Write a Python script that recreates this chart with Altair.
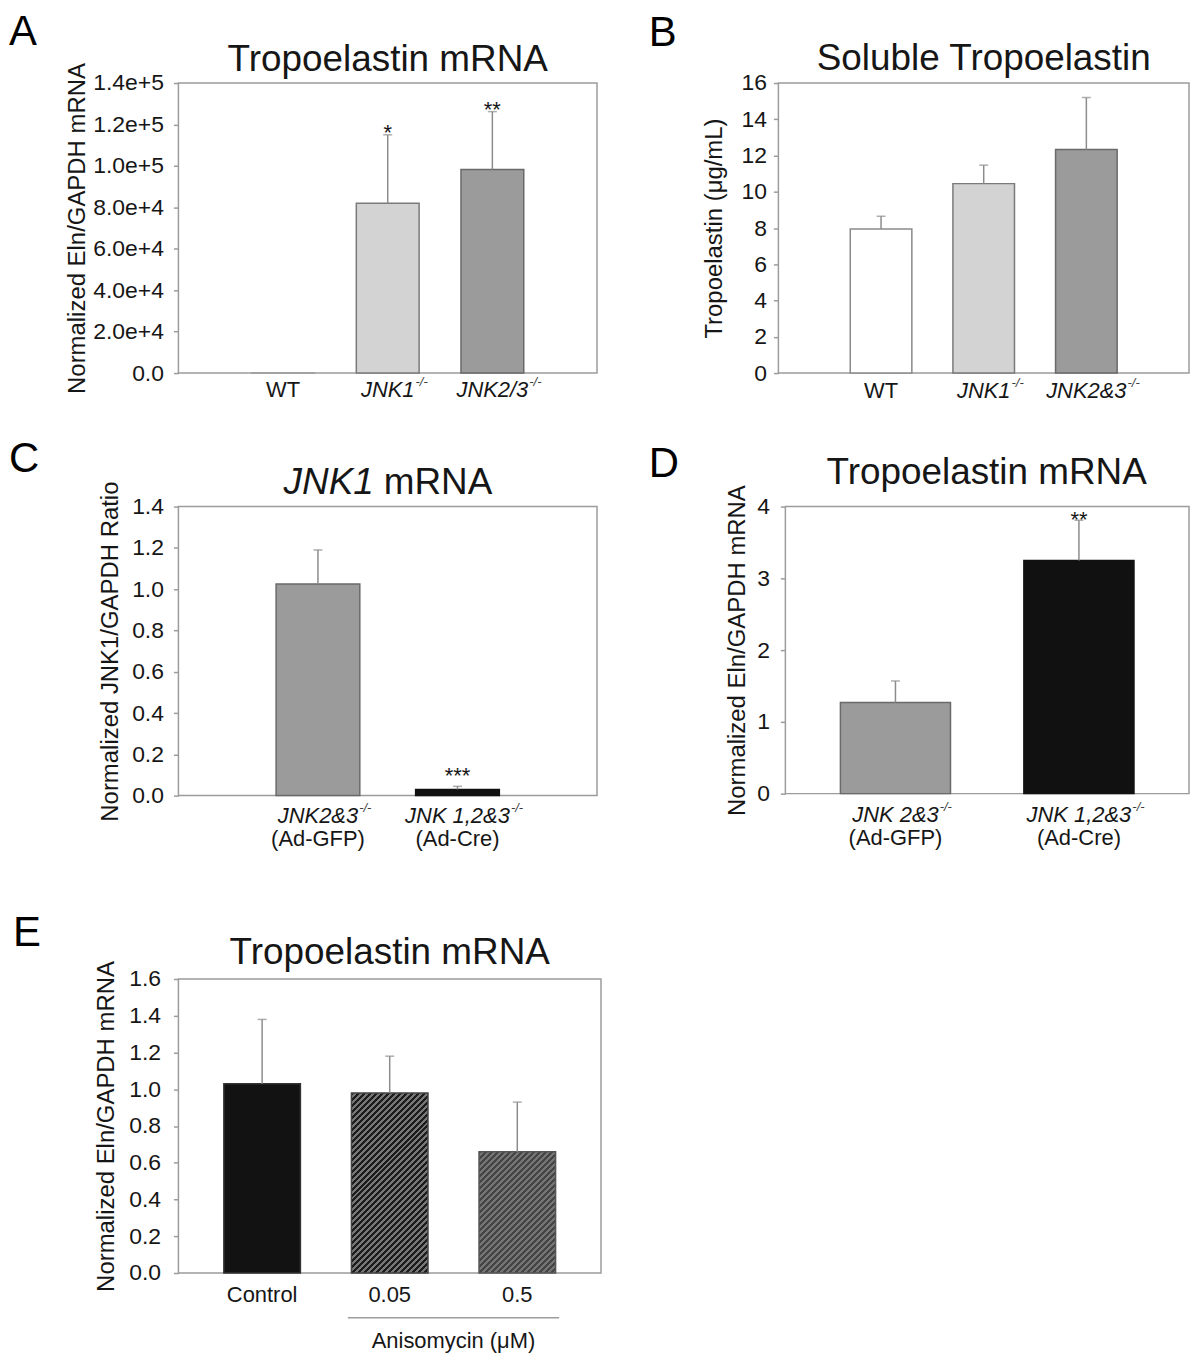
import altair as alt
import pandas as pd

FONT = "Liberation Sans"
TXT = "#161616"
AXC = "#9c9c9c"
ERR = "#8c8c8c"

# ---------------- Panel A: Tropoelastin mRNA ----------------
a_cats = ["WT", "JNK1", "JNK2/3"]
a_sup = ["", "-/-", "-/-"]
a_italic = [False, True, True]
a_mean = [1.0, 82000, 98300]
a_err = [None, 115000, 126200]
a_star = ["", "*", "**"]
a_ticks = [0, 20000, 40000, 60000, 80000, 100000, 120000, 140000]

# ---------------- Panel B: Soluble Tropoelastin ----------------
b_cats = ["WT", "JNK1", "JNK2&3"]
b_sup = ["", "-/-", "-/-"]
b_italic = [False, True, True]
b_mean = [7.95, 10.45, 12.33]
b_err = [8.65, 11.47, 15.2]
b_ticks = [0, 2, 4, 6, 8, 10, 12, 14, 16]

# ---------------- Panel C: JNK1 mRNA ----------------
c_cats = ["JNK2&3", "JNK 1,2&3"]
c_sup = ["-/-", "-/-"]
c_sub = ["(Ad-GFP)", "(Ad-Cre)"]
c_italic = [True, True]
c_mean = [1.025, 0.03]
c_err = [1.19, 0.045]
c_star = ["", "***"]
c_ticks = [0, 0.2, 0.4, 0.6, 0.8, 1.0, 1.2, 1.4]

# ---------------- Panel D: Tropoelastin mRNA ----------------
d_cats = ["JNK 2&3", "JNK 1,2&3"]
d_sup = ["-/-", "-/-"]
d_sub = ["(Ad-GFP)", "(Ad-Cre)"]
d_italic = [True, True]
d_mean = [1.27, 3.25]
d_err = [1.57, 3.81]
d_star = ["", "**"]
d_ticks = [0, 1, 2, 3, 4]

# ---------------- Panel E: Tropoelastin mRNA ----------------
e_cats = ["Control", "0.05", "0.5"]
e_sup = ["", "", ""]
e_italic = [False, False, False]
e_mean = [1.03, 0.98, 0.66]
e_err = [1.38, 1.18, 0.93]
e_ticks = [0, 0.2, 0.4, 0.6, 0.8, 1.0, 1.2, 1.4, 1.6]
e_bracket = ["0.05", "0.5"]
e_bracket_label = "Anisomycin (\u03bcM)"

# Arial / Liberation Sans advance widths (per 1000 em) used to place superscripts
AW = {"J": 500, "N": 722, "K": 667, "1": 556, "2": 556, "3": 556, "&": 667,
      "/": 278, " ": 278, ",": 278, "W": 944, "T": 611}


def tw(s, size):
    return sum(AW.get(ch, 556) for ch in s) / 1000.0 * size


def one(**kw):
    return pd.DataFrame({k: [v] for k, v in kw.items()})


def hatch_fill(w_px, h_px, c1, c2, period=6.0):
    # diagonal stripes ("/") drawn with a hard-stop linear gradient (objectBoundingBox units)
    n = (w_px + h_px) / period
    lam = (1.0 / h_px + 1.0 / w_px) / (1.0 / h_px ** 2 + 1.0 / w_px ** 2)
    stops = []
    k = 0
    while k < n:
        a = round(k / n, 5)
        m = round(min((k + 0.5) / n, 1.0), 5)
        b = round(min((k + 1.0) / n, 1.0), 5)
        stops += [{"offset": a, "color": c1}, {"offset": m, "color": c1},
                  {"offset": m, "color": c2}, {"offset": b, "color": c2}]
        k += 1
    return {"gradient": "linear", "x1": 0, "y1": 0,
            "x2": round(lam / h_px, 5), "y2": round(lam / w_px, 5), "stops": stops}


def panel(p):
    cats = p["cats"]
    w, h = p["w"], p["h"]
    n = len(cats)
    df = pd.DataFrame({"cat": cats, "mean": p["mean"], "err": p["err"],
                       "star": p.get("star", [""] * n)})
    xs = alt.Scale(domain=cats, paddingInner=0.4, paddingOuter=p["po"])
    X = alt.X("cat:N", scale=xs, axis=None)
    ys = alt.Scale(domain=[0, p["ymax"]], nice=False, zero=True)
    yaxis = alt.Axis(values=p["ticks"], labelExpr=p["labexpr"], tickSize=5, tickWidth=1.5,
                     tickColor=AXC, domain=False, grid=False, labelFont=FONT,
                     labelFontSize=23, labelColor=TXT, labelPadding=p["labpad"],
                     title=p["ytitle"], titleFont=FONT, titleFontSize=24,
                     titleFontWeight="normal", titleColor=TXT, titleAngle=270,
                     titleX=p["ytx"], titleY=h / 2, titleAlign="center",
                     titleBaseline="middle")
    layers = []

    if "barfills" in p:
        for i, c in enumerate(cats):
            layers.append(alt.Chart(df).transform_filter(alt.datum.cat == c).mark_bar(
                fill=p["barfills"][i], stroke=p["strokes"][i], strokeWidth=1.5).encode(
                x=X, y=alt.Y("mean:Q", scale=ys, axis=yaxis)))
    else:
        dfb = df.copy()
        dfb["fillc"] = p["fills"]
        dfb["strokec"] = p["strokes"]
        layers.append(alt.Chart(dfb).mark_bar(strokeWidth=1.5).encode(
            x=X, y=alt.Y("mean:Q", scale=ys, axis=yaxis),
            fill=alt.Fill("fillc:N", scale=None),
            stroke=alt.Stroke("strokec:N", scale=None)))

    valid = alt.Chart(df).transform_filter("isValid(datum.err)")
    layers.append(valid.mark_rule(color=ERR, strokeWidth=1.5).encode(
        x=X, y=alt.Y("mean:Q", scale=ys, axis=yaxis), y2="err:Q"))
    layers.append(valid.mark_tick(color=ERR, thickness=1.5, size=9).encode(
        x=X, y=alt.Y("err:Q", scale=ys, axis=yaxis)))
    if "star" in p:
        layers.append(valid.mark_text(font=FONT, fontSize=22, color=TXT, baseline="middle",
                                      align="center", dy=p["stardy"]).encode(
            x=X, y=alt.Y("err:Q", scale=ys, axis=yaxis), text="star:N"))

    # category labels (with italic gene names and -/- superscripts)
    for i, c in enumerate(cats):
        d1 = one(cat=c, lab=c)
        style = "italic" if p["italic"][i] else "normal"
        layers.append(alt.Chart(d1).mark_text(
            font=FONT, fontSize=22, fontStyle=style, color=TXT, align="center",
            baseline="middle").encode(x=X, y=alt.value(p["laby"]), text="lab:N"))
        if p["sup"][i]:
            d2 = one(cat=c, lab=p["sup"][i])
            layers.append(alt.Chart(d2).mark_text(
                font=FONT, fontSize=13, fontStyle="italic", color="#3a3a3a", align="left",
                baseline="middle", dx=tw(c, 22) / 2 + 1).encode(
                x=X, y=alt.value(p["laby"] - 8), text="lab:N"))
        if "sub" in p:
            d3 = one(cat=c, lab=p["sub"][i])
            layers.append(alt.Chart(d3).mark_text(
                font=FONT, fontSize=22, color=TXT, align="center", baseline="middle").encode(
                x=X, y=alt.value(p["suby"]), text="lab:N"))

    # panel letter
    lx, ly = p["letterxy"]
    layers.append(alt.Chart(one(t=p["letter"])).mark_text(
        font=FONT, fontSize=42, color="#000000", align="left", baseline="top").encode(
        x=alt.value(lx), y=alt.value(ly), text="t:N"))
    # panel title
    for (txt, tx, ty, al, st) in p["title"]:
        layers.append(alt.Chart(one(t=txt)).mark_text(
            font=FONT, fontSize=37, color=TXT, align=al, fontStyle=st,
            baseline="alphabetic").encode(x=alt.value(tx), y=alt.value(ty), text="t:N"))

    if "bracket" in p:
        a, b = p["bracket"]
        db = one(a=a, b=b, t=p["bracket_label"])
        layers.append(alt.Chart(db).mark_rule(color=AXC, strokeWidth=1.5, xOffset=-42,
                                              x2Offset=42).encode(
            x=alt.X("a:N", scale=xs, axis=None), x2="b:N", y=alt.value(p["bracket_y"])))
        layers.append(alt.Chart(db).mark_text(
            font=FONT, fontSize=22, color=TXT, align="center", baseline="middle",
            dx=p["bracket_dx"]).encode(
            x=alt.X("a:N", scale=xs, axis=None), y=alt.value(p["bracket_ty"]), text="t:N"))

    # invisible frame that fixes the panel's footprint in the grid
    fx0, fx1, fy0, fy1 = p["frame"]
    layers.append(alt.Chart(one(k=0)).mark_rect(opacity=0).encode(
        x=alt.value(fx0), x2=alt.value(fx1), y=alt.value(fy0), y2=alt.value(fy1)))

    return alt.layer(*layers).properties(width=w, height=h)


fmt_e = "datum.value == 0 ? '0.0' : format(datum.value, '.1e')"
fmt_1 = "format(datum.value, '.1f')"
fmt_d = "format(datum.value, 'd')"

A = panel(dict(cats=a_cats, mean=a_mean, err=a_err, star=a_star, stardy=-2, sup=a_sup,
               italic=a_italic, fills=["#ffffff", "#d3d3d3", "#9b9b9b"],
               strokes=[AXC, "#7a7a7a", "#6a6a6a"], w=420, h=291, po=0.7, ymax=140000,
               ticks=a_ticks, labexpr=fmt_e, labpad=10, ytitle="Normalized Eln/GAPDH mRNA",
               ytx=-101, frame=(-170, 462, -72, 350), letter="A", letterxy=(-170, -71),
               title=[("Tropoelastin mRNA", 210, -12, "center", "normal")], laby=308))

B = panel(dict(cats=b_cats, mean=b_mean, err=b_err, sup=b_sup, italic=b_italic,
               fills=["#ffffff", "#d3d3d3", "#9b9b9b"],
               strokes=["#8a8a8a", "#7a7a7a", "#6a6a6a"], w=412, h=291, po=0.7, ymax=16,
               ticks=b_ticks, labexpr=fmt_d, labpad=7, ytitle="Tropoelastin (\u03bcg/mL)",
               ytx=-64, frame=(-138, 414, -71, 351), letter="B", letterxy=(-130, -70),
               title=[("Soluble Tropoelastin", 206, -13, "center", "normal")], laby=309))

C = panel(dict(cats=c_cats, mean=c_mean, err=c_err, star=c_star, stardy=-10, sup=c_sup,
               sub=c_sub, italic=c_italic, fills=["#9b9b9b", "#111111"],
               strokes=["#6a6a6a", "#111111"], w=420, h=290, po=0.7, ymax=1.4,
               ticks=c_ticks, labexpr=fmt_1, labpad=10,
               ytitle="Normalized JNK1/GAPDH Ratio", ytx=-68, frame=(-170, 462, -69, 384),
               letter="C", letterxy=(-170, -68),
               title=[("JNK1", 196, -13, "right", "italic"), ("mRNA", 206, -13, "left", "normal")],
               laby=310, suby=334))

D = panel(dict(cats=d_cats, mean=d_mean, err=d_err, star=d_star, stardy=0, sup=d_sup,
               sub=d_sub, italic=d_italic, fills=["#9b9b9b", "#111111"],
               strokes=["#6a6a6a", "#111111"], w=405, h=288, po=0.3, ymax=4,
               ticks=d_ticks, labexpr=fmt_d, labpad=11,
               ytitle="Normalized Eln/GAPDH mRNA", ytx=-48, frame=(-145, 407, -72, 381),
               letter="D", letterxy=(-137, -63),
               title=[("Tropoelastin mRNA", 202, -23, "center", "normal")],
               laby=309, suby=333))

# pixel geometry of panel E bars for the hatch pattern
E_W, E_H, E_PO, E_MAX = 424, 295, 0.356, 1.6
e_step = E_W / (len(e_cats) - 0.4 + 2 * E_PO)
e_bw = 0.6 * e_step
e_fills = ["#121212",
           hatch_fill(e_bw, e_mean[1] / E_MAX * E_H, "#1c1c1c", "#777777"),
           hatch_fill(e_bw, e_mean[2] / E_MAX * E_H, "#444444", "#767676")]

E = panel(dict(cats=e_cats, mean=e_mean, err=e_err, sup=e_sup, italic=e_italic,
               barfills=e_fills, strokes=["#333333", "#444444", "#555555"], w=E_W, h=E_H,
               po=E_PO, ymax=E_MAX, ticks=e_ticks, labexpr=fmt_1, labpad=13,
               ytitle="Normalized Eln/GAPDH mRNA", ytx=-72, frame=(-166, 466, -88, 375),
               letter="E", letterxy=(-166, -66),
               title=[("Tropoelastin mRNA", 212, -15, "center", "normal")], laby=317,
               bracket=e_bracket, bracket_label=e_bracket_label, bracket_y=340,
               bracket_ty=363, bracket_dx=e_step / 2))

row1 = alt.hconcat(A, B, spacing=0)
row2 = alt.hconcat(C, D, spacing=0)
chart = alt.vconcat(row1, row2, E, spacing=0).properties(padding=0).configure_view(
    stroke=AXC, strokeWidth=1.5)

chart.save("out.html", embed_options={"renderer": "svg", "actions": False})
